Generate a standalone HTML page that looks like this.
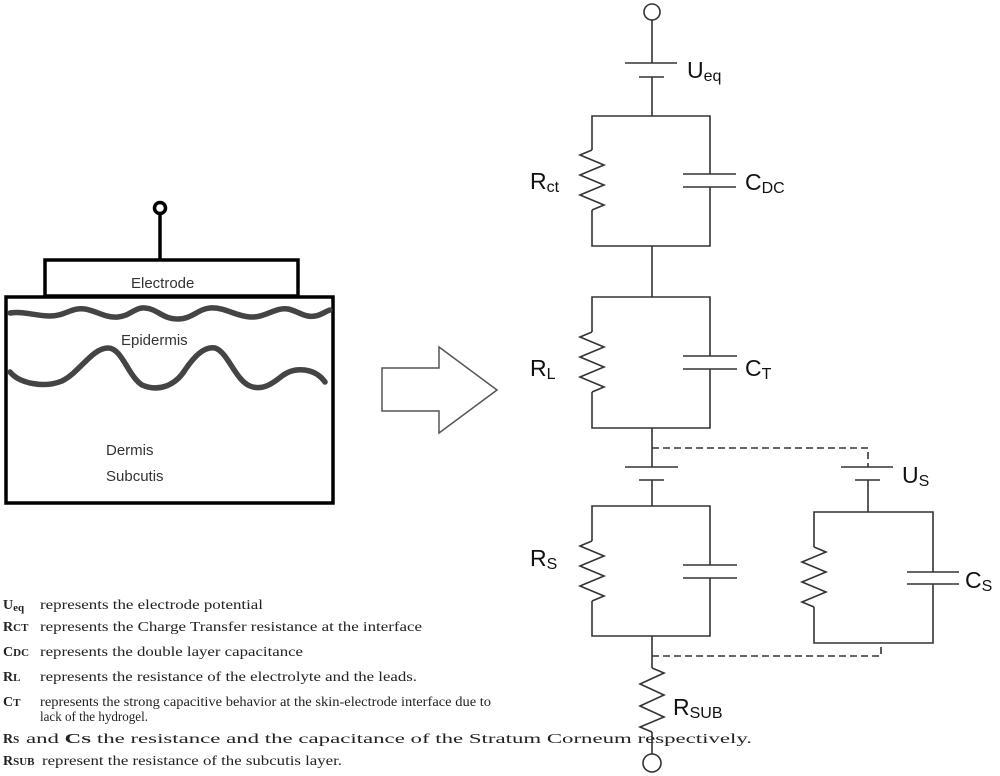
<!DOCTYPE html>
<html><head><meta charset="utf-8"><style>
html,body{margin:0;padding:0;background:#fff;}
svg{display:block;}
.s{font-family:"Liberation Sans",sans-serif;}
.t{font-family:"Liberation Serif",serif;font-size:14px;fill:#222;}
.b{font-weight:bold;}
</style></head><body>
<svg width="1000" height="776" viewBox="0 0 1000 776" xmlns="http://www.w3.org/2000/svg">
<g stroke="#000" stroke-width="3.5" fill="none">
<circle cx="160" cy="208" r="5.5"/>
<line x1="160" y1="214" x2="160" y2="260"/>
<rect x="45" y="260" width="253" height="36" fill="#fff"/>
<rect x="6" y="297" width="327" height="206"/>
</g>
<g stroke="#444" stroke-width="5.5" fill="none" stroke-linejoin="round" stroke-linecap="round">
<path d="M10,313 C25,311 35,316 50,316 C65,316 72,307 85,309 C97,311 105,318 118,317 C130,316 135,307 145,308 C158,309 162,319 178,319 C192,319 198,309 210,308 C225,307 235,316 250,317 C265,318 275,307 288,309 C298,311 305,318 315,316 C322,315 326,311 330,310"/>
<path d="M10,372 C20,384 45,388 62,381 C80,372 92,348 108,348 C122,348 128,376 142,385 C158,392 175,386 185,370 C195,355 205,346 215,348 C228,352 235,380 250,386 C262,391 272,384 282,376 C295,366 315,368 325,382"/>
</g>
<g class="s" font-size="15" fill="#333">
<text x="131" y="288">Electrode</text>
<text x="121" y="345">Epidermis</text>
<text x="106" y="455">Dermis</text>
<text x="106" y="481">Subcutis</text>
</g>
<polygon points="382,368 439,368 439,347 497,390 439,433 439,411 382,411" fill="#fff" stroke="#555" stroke-width="1.5"/>

<g stroke="#333" stroke-width="1.6" fill="none">
<circle cx="652" cy="12" r="8"/>
<line x1="652" y1="20" x2="652" y2="63"/>
<line x1="625" y1="63" x2="677" y2="63"/>
<line x1="639" y1="77" x2="664" y2="77"/>
<line x1="652" y1="77" x2="652" y2="116"/>
<polyline points="592,150 592,116 710,116 710,174"/>
<polyline points="710,187 710,246 592,246 592,210"/>
<polyline points="592,150 580,155 604,165 580,175 604,185 580,195 604,205 592,210"/>
<line x1="683" y1="174" x2="736" y2="174"/>
<line x1="683" y1="187" x2="736" y2="187"/>
<line x1="652" y1="246" x2="652" y2="297"/>
<polyline points="592,332 592,297 710,297 710,356"/>
<polyline points="710,369 710,428 592,428 592,392"/>
<polyline points="592,332 580,337 604,347 580,357 604,367 580,377 604,387 592,392"/>
<line x1="683" y1="356" x2="737" y2="356"/>
<line x1="683" y1="369" x2="737" y2="369"/>
<line x1="652" y1="428" x2="652" y2="467"/>
<line x1="625" y1="467" x2="678" y2="467"/>
<line x1="639" y1="480" x2="664" y2="480"/>
<line x1="652" y1="480" x2="652" y2="506"/>
<polyline points="592,541 592,506 710,506 710,565"/>
<polyline points="710,578 710,636 592,636 592,601"/>
<polyline points="592,541 580,546 604,556 580,566 604,576 580,586 604,596 592,601"/>
<line x1="683" y1="565" x2="737" y2="565"/>
<line x1="683" y1="578" x2="737" y2="578"/>
<line x1="652" y1="636" x2="652" y2="668"/>
<polyline points="652,668 664,673 640,684 664,695 640,706 664,717 640,727 652,732"/>
<line x1="652" y1="732" x2="652" y2="754"/>
<circle cx="652" cy="763" r="9"/>
<line x1="841" y1="467" x2="893" y2="467"/>
<line x1="855" y1="480" x2="880" y2="480"/>
<line x1="868" y1="480" x2="868" y2="512"/>
<polyline points="814,547 814,512 933,512 933,572"/>
<polyline points="933,584 933,643 814,643 814,607"/>
<polyline points="814,547 826,552 802,562 826,572 802,582 826,592 802,602 814,607"/>
<line x1="907" y1="572" x2="959" y2="572"/>
<line x1="907" y1="584" x2="959" y2="584"/>
</g>
<g stroke="#333" stroke-width="1.6" fill="none" stroke-dasharray="7,4">
<polyline points="652,448 868,448 868,467"/>
<polyline points="652,656 881,656 881,643"/>
</g>
<g class="s" fill="#111" font-size="23">
<text x="687" y="78">U<tspan font-size="16" dy="3">eq</tspan></text>
<text x="530" y="189">R<tspan font-size="16" dy="3">ct</tspan></text>
<text x="745" y="190">C<tspan font-size="16" dy="3">DC</tspan></text>
<text x="530" y="376">R<tspan font-size="16" dy="3">L</tspan></text>
<text x="745" y="376">C<tspan font-size="16" dy="3">T</tspan></text>
<text x="530" y="566">R<tspan font-size="16" dy="3">S</tspan></text>
<text x="902" y="483">U<tspan font-size="16" dy="3">S</tspan></text>
<text x="965" y="588">C<tspan font-size="16" dy="3">S</tspan></text>
<text x="673" y="715">R<tspan font-size="16" dy="3">SUB</tspan></text>
</g>
<g class="t">
<text x="3" y="609" class="b">U<tspan font-size="11" dy="2">eq</tspan></text>
<text x="40" y="609" textLength="223" lengthAdjust="spacingAndGlyphs">represents the electrode potential</text>
<text x="3" y="631" class="b">R<tspan font-size="11">CT</tspan></text>
<text x="40" y="631" textLength="382" lengthAdjust="spacingAndGlyphs">represents the Charge Transfer resistance at the interface</text>
<text x="3" y="656" class="b">C<tspan font-size="11">DC</tspan></text>
<text x="40" y="656" textLength="263" lengthAdjust="spacingAndGlyphs">represents the double layer capacitance</text>
<text x="3" y="681" class="b">R<tspan font-size="11">L</tspan></text>
<text x="40" y="681" textLength="377" lengthAdjust="spacingAndGlyphs">represents the resistance of the electrolyte and the leads.</text>
<text x="3" y="706" class="b">C<tspan font-size="11">T</tspan></text>
<text x="40" y="706" textLength="451" lengthAdjust="spacingAndGlyphs">represents the strong capacitive behavior at the skin-electrode interface due to</text>
<text x="40" y="721" textLength="108" lengthAdjust="spacingAndGlyphs">lack of the hydrogel.</text>
<text x="3" y="743" class="b">R<tspan font-size="11">S</tspan></text>
<text x="26" y="743" textLength="726" lengthAdjust="spacingAndGlyphs">and <tspan class="b">C</tspan><tspan class="b" font-size="11">S</tspan> the resistance and the capacitance of the Stratum Corneum respectively.</text>
<text x="3" y="765" class="b">R<tspan font-size="11">SUB</tspan></text>
<text x="42" y="765" textLength="300" lengthAdjust="spacingAndGlyphs">represent the resistance of the subcutis layer.</text>
</g>
</svg>
</body></html>
